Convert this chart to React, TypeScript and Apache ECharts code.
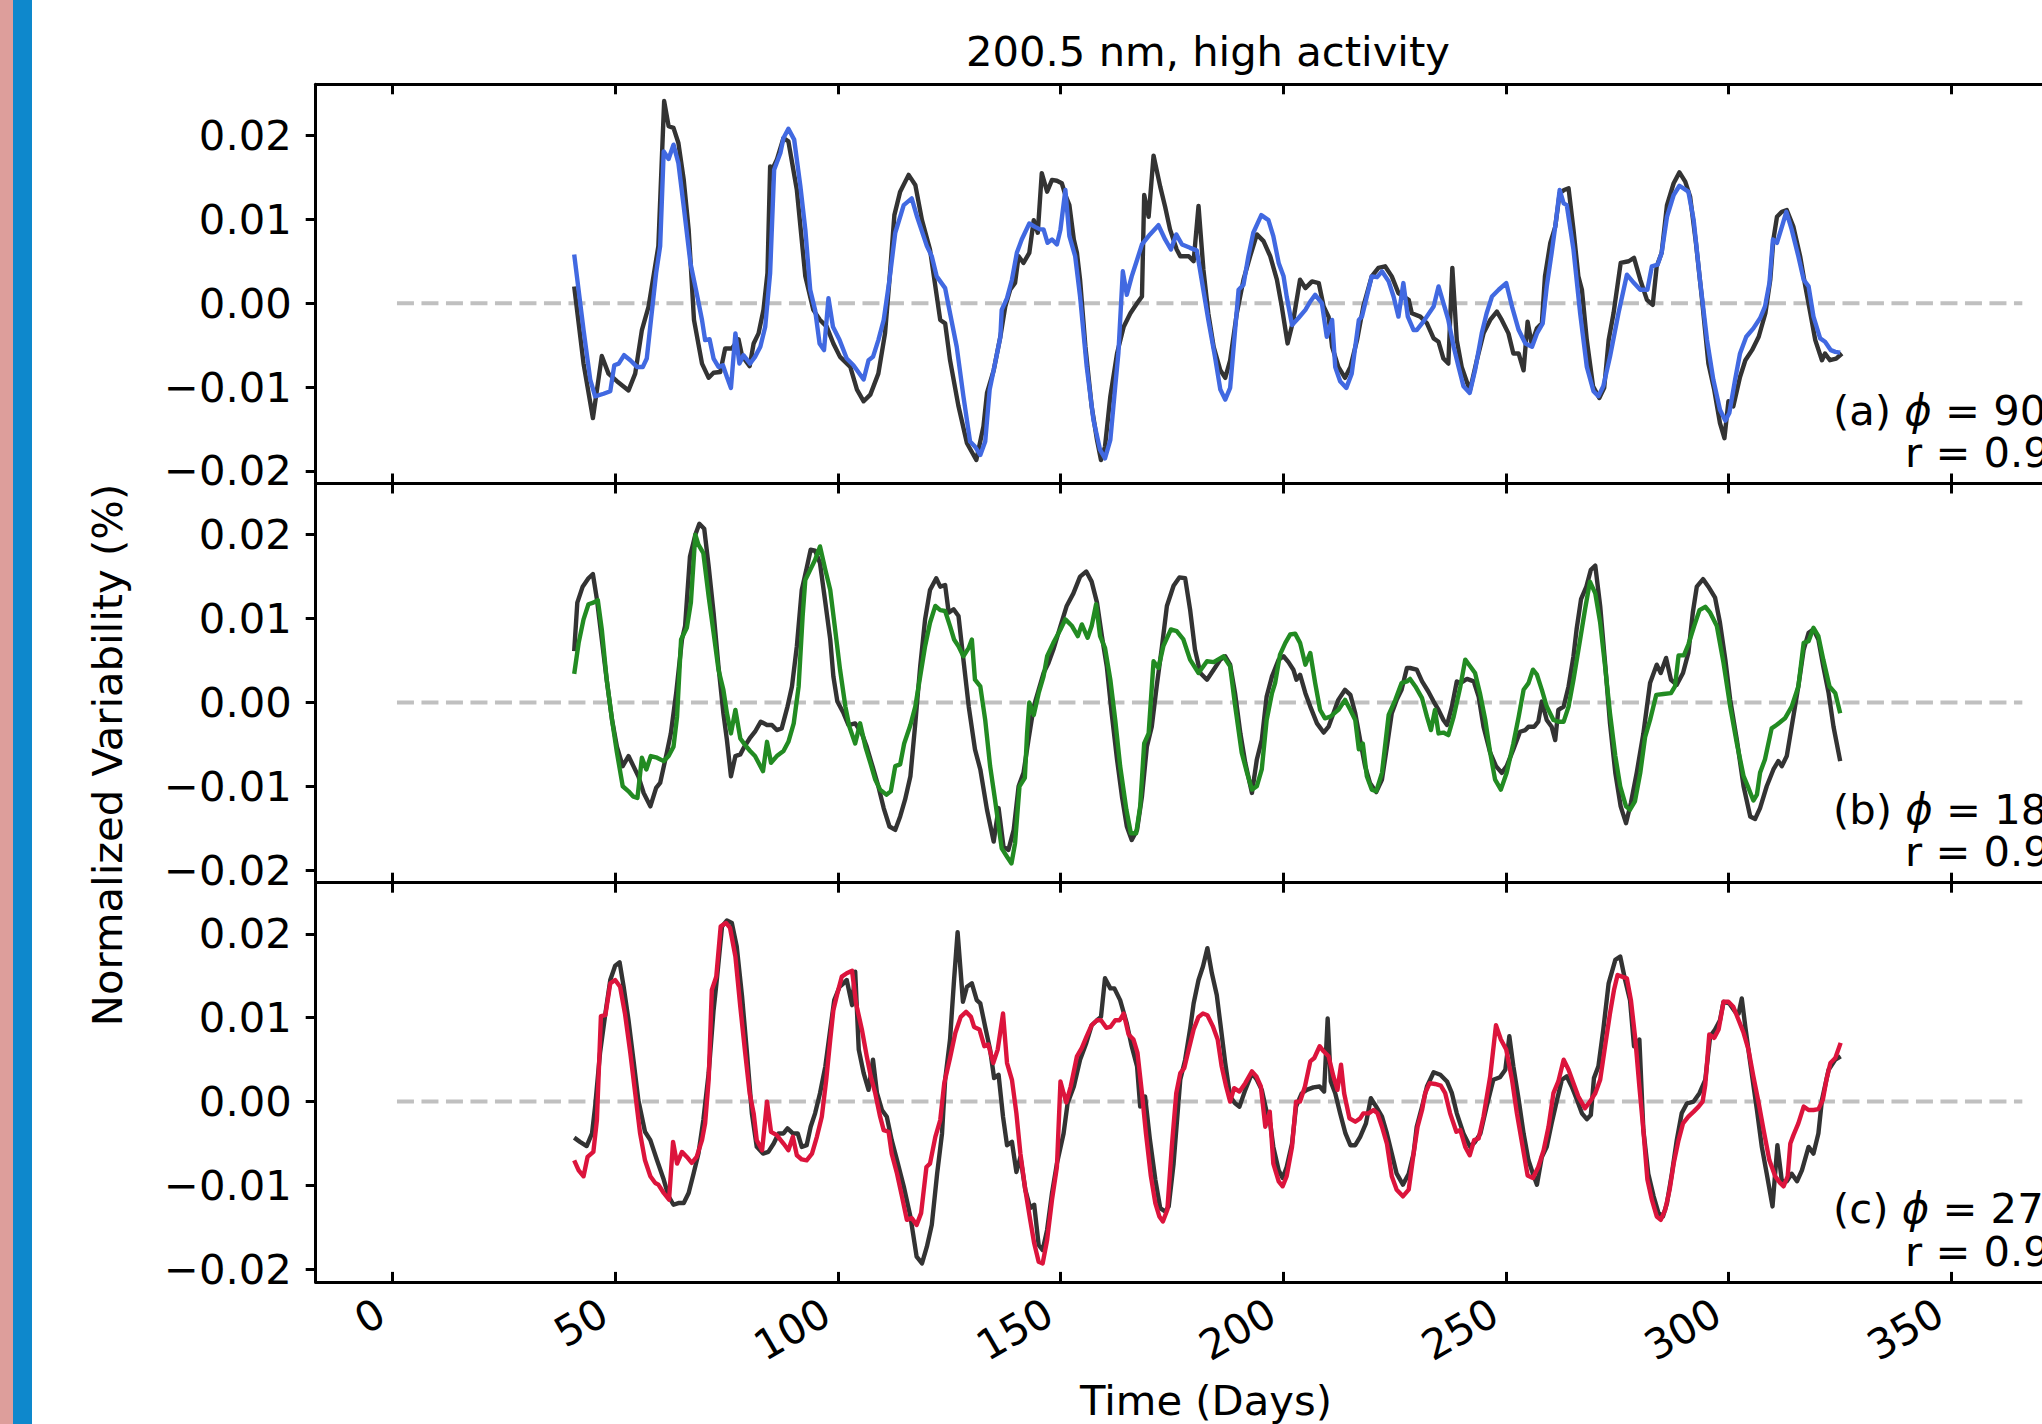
import React, { useEffect, useRef } from "react";
import * as echarts from "echarts";

// ---------- text ----------
const TITLE = "200.5 nm, high activity";
const Y_LABEL = "Normalized Variability (%)";
const X_LABEL = "Time (Days)";
const PANEL_TAGS = ["(a) ", "(b) ", "(c) "];
const PANEL_PHASES = [" = 90°", " = 180°", " = 270°"];
const PANEL_R = ["r = 0.93", "r = 0.91", "r = 0.92"];

// ---------- ticks ----------
const X_TICKS = [0, 50, 100, 150, 200, 250, 300, 350];
const Y_TICKS = [-0.02, -0.01, 0, 0.01, 0.02];
const ZERO_LINE: [number, number][] = [[1, 0], [366, 0]];

// ---------- data: [day, normalized variability] ----------
const obsA: [number, number][] = [[40.8,0.0020],[42.9,-0.0072],[45.0,-0.0137],[47.0,-0.0063],[48.5,-0.0084],[50.4,-0.0093],[53.0,-0.0104],[54.5,-0.0084],[56.0,-0.0032],[57.5,-0.0004],[59.7,0.0068],[61.0,0.0241],[62.0,0.0211],[63.1,0.0209],[64.2,0.0191],[65.4,0.0147],[66.5,0.0088],[67.7,-0.0020],[69.5,-0.0072],[71.0,-0.0089],[72.1,-0.0083],[73.6,-0.0082],[74.7,-0.0054],[76.2,-0.0054],[77.7,-0.0043],[78.5,-0.0063],[80.2,-0.0075],[81.1,-0.0048],[82.2,-0.0036],[83.3,-0.0008],[84.2,0.0036],[84.8,0.0163],[85.4,0.0161],[86.3,0.0171],[87.8,0.0197],[88.9,0.0193],[90.8,0.0135],[92.7,0.0032],[94.5,-0.0008],[96.0,-0.0020],[97.5,-0.0028],[99.0,-0.0048],[100.5,-0.0064],[102.8,-0.0076],[104.3,-0.0103],[105.8,-0.0117],[107.3,-0.0109],[109.1,-0.0084],[110.6,-0.0036],[111.6,0.0028],[112.7,0.0105],[114.0,0.0133],[115.9,0.0153],[117.4,0.0141],[118.9,0.0099],[120.7,0.0064],[123.0,-0.0020],[124.1,-0.0024],[125.2,-0.0068],[127.1,-0.0123],[129.0,-0.0167],[131.1,-0.0187],[132.7,-0.0147],[133.5,-0.0107],[135.0,-0.0080],[136.5,-0.0040],[137.6,-0.0004],[138.7,0.0016],[139.8,0.0024],[140.6,0.0056],[141.7,0.0048],[143.0,0.0060],[144.0,0.0099],[144.9,0.0084],[145.8,0.0155],[147.0,0.0133],[148.1,0.0147],[149.2,0.0146],[150.3,0.0143],[151.1,0.0129],[152.0,0.0117],[153.0,0.0076],[153.7,0.0060],[154.4,0.0028],[155.6,-0.0052],[157.0,-0.0123],[158.2,-0.0163],[159.1,-0.0187],[160.0,-0.0171],[161.2,-0.0111],[162.7,-0.0060],[164.2,-0.0028],[165.7,-0.0012],[167.2,0.0000],[168.3,0.0008],[168.8,0.0129],[169.8,0.0103],[170.9,0.0176],[172.4,0.0139],[173.5,0.0115],[174.6,0.0088],[176.1,0.0064],[176.9,0.0056],[178.8,0.0056],[179.9,0.0050],[181.0,0.0116],[182.1,0.0040],[183.2,-0.0012],[184.4,-0.0052],[185.9,-0.0080],[187.0,-0.0089],[188.1,-0.0068],[189.6,-0.0012],[191.1,0.0028],[192.6,0.0056],[194.1,0.0082],[195.6,0.0074],[197.1,0.0056],[198.6,0.0028],[199.7,-0.0004],[201.0,-0.0048],[202.3,-0.0020],[203.8,0.0028],[205.0,0.0018],[206.5,0.0026],[208.0,0.0024],[209.1,-0.0004],[210.2,-0.0016],[211.0,-0.0052],[212.4,-0.0076],[213.9,-0.0089],[215.1,-0.0076],[216.6,-0.0044],[218.0,-0.0004],[219.9,0.0032],[221.4,0.0042],[222.9,0.0044],[224.4,0.0032],[225.9,0.0012],[227.0,0.0008],[228.2,0.0004],[228.9,-0.0012],[230.8,-0.0016],[232.3,-0.0024],[233.8,-0.0042],[234.9,-0.0046],[236.0,-0.0066],[237.1,-0.0072],[238.0,0.0042],[239.0,-0.0044],[240.1,-0.0076],[241.6,-0.0099],[242.0,-0.0103],[243.5,-0.0068],[245.0,-0.0036],[246.5,-0.0020],[248.0,-0.0010],[249.1,-0.0020],[250.6,-0.0036],[251.7,-0.0060],[252.9,-0.0060],[254.0,-0.0080],[254.9,-0.0022],[255.8,-0.0048],[257.0,-0.0030],[258.1,-0.0024],[258.8,0.0032],[260.0,0.0072],[261.1,0.0091],[262.1,0.0131],[263.1,0.0135],[264.1,0.0137],[265.2,0.0088],[266.3,0.0032],[267.1,0.0016],[268.2,-0.0044],[269.6,-0.0099],[271.0,-0.0113],[272.1,-0.0101],[273.1,-0.0044],[274.2,-0.0012],[275.8,0.0048],[277.6,0.0050],[278.8,0.0054],[280.2,0.0028],[281.7,0.0004],[283.0,-0.0002],[283.9,0.0044],[285.0,0.0060],[286.2,0.0117],[287.7,0.0143],[289.0,0.0156],[290.3,0.0145],[291.4,0.0127],[292.7,0.0072],[294.0,0.0008],[295.5,-0.0072],[296.8,-0.0103],[298.1,-0.0143],[299.1,-0.0161],[300.0,-0.0117],[301.1,-0.0123],[302.6,-0.0088],[303.8,-0.0068],[305.3,-0.0056],[306.8,-0.0040],[308.3,-0.0012],[309.4,0.0028],[310.1,0.0076],[310.9,0.0103],[312.0,0.0109],[313.1,0.0111],[314.6,0.0091],[316.1,0.0056],[317.2,0.0022],[318.4,-0.0012],[319.5,-0.0044],[321.0,-0.0068],[321.7,-0.0060],[322.8,-0.0068],[324.2,-0.0066],[325.5,-0.0060]];

const modA: [number, number][] = [[40.8,0.0058],[42.9,-0.0032],[44.4,-0.0091],[45.5,-0.0111],[47.4,-0.0108],[48.9,-0.0105],[49.8,-0.0074],[50.8,-0.0072],[52.0,-0.0062],[53.4,-0.0068],[54.9,-0.0076],[56.2,-0.0076],[57.1,-0.0066],[58.2,-0.0012],[59.2,0.0036],[60.1,0.0068],[60.9,0.0181],[62.0,0.0172],[63.1,0.0189],[64.2,0.0167],[65.4,0.0115],[66.9,0.0048],[68.3,0.0012],[69.5,-0.0020],[70.2,-0.0044],[71.2,-0.0043],[72.1,-0.0066],[73.2,-0.0076],[74.2,-0.0074],[75.1,-0.0088],[76.0,-0.0101],[77.0,-0.0036],[77.9,-0.0072],[78.8,-0.0062],[80.3,-0.0072],[81.4,-0.0064],[82.6,-0.0052],[83.7,-0.0028],[84.8,0.0036],[85.7,0.0159],[87.1,0.0179],[87.8,0.0197],[88.9,0.0208],[90.2,0.0195],[91.6,0.0139],[92.7,0.0088],[93.8,0.0016],[94.9,-0.0008],[95.9,-0.0048],[96.9,-0.0056],[97.9,0.0006],[98.9,-0.0028],[100.4,-0.0044],[102.0,-0.0066],[103.5,-0.0074],[105.8,-0.0091],[106.9,-0.0068],[107.9,-0.0064],[109.1,-0.0044],[110.3,-0.0020],[111.6,0.0028],[112.9,0.0084],[114.8,0.0117],[116.6,0.0125],[117.8,0.0103],[120.0,0.0068],[121.1,0.0056],[122.2,0.0032],[124.1,0.0018],[125.2,-0.0012],[126.7,-0.0052],[128.2,-0.0111],[129.7,-0.0165],[130.8,-0.0171],[132.0,-0.0181],[133.1,-0.0165],[134.1,-0.0103],[135.3,-0.0072],[136.5,-0.0040],[136.8,-0.0008],[138.0,0.0006],[139.1,0.0028],[140.2,0.0060],[141.3,0.0076],[143.0,0.0095],[144.3,0.0091],[145.4,0.0088],[146.2,0.0088],[147.1,0.0072],[148.1,0.0076],[149.2,0.0070],[150.0,0.0088],[151.1,0.0135],[152.0,0.0080],[153.3,0.0056],[154.4,0.0008],[155.9,-0.0076],[157.4,-0.0139],[158.9,-0.0175],[160.0,-0.0185],[161.2,-0.0163],[162.3,-0.0099],[163.0,-0.0060],[164.0,0.0038],[164.9,0.0010],[166.0,0.0032],[167.1,0.0050],[168.3,0.0070],[170.1,0.0082],[172.0,0.0093],[173.5,0.0076],[174.8,0.0064],[176.0,0.0082],[177.3,0.0070],[179.1,0.0066],[180.6,0.0063],[181.7,0.0028],[183.2,-0.0020],[184.7,-0.0064],[185.9,-0.0103],[187.0,-0.0115],[188.1,-0.0101],[190.0,0.0016],[191.1,0.0022],[192.2,0.0056],[193.3,0.0084],[195.1,0.0105],[196.7,0.0099],[197.8,0.0080],[199.0,0.0048],[200.1,0.0032],[200.8,0.0008],[202.0,-0.0026],[203.4,-0.0018],[205.0,-0.0008],[206.1,0.0002],[207.2,0.0010],[208.7,0.0000],[209.8,-0.0040],[211.0,-0.0020],[211.7,-0.0076],[212.8,-0.0093],[214.2,-0.0101],[215.4,-0.0084],[217.0,-0.0020],[217.7,-0.0016],[218.8,0.0008],[219.9,0.0032],[221.1,0.0031],[222.2,0.0038],[223.7,0.0026],[224.8,0.0008],[225.9,-0.0016],[227.0,0.0024],[228.0,-0.0016],[229.3,-0.0032],[230.0,-0.0032],[231.5,-0.0022],[233.8,-0.0004],[234.9,0.0020],[236.0,0.0000],[237.1,-0.0020],[238.3,-0.0052],[239.4,-0.0076],[240.5,-0.0099],[241.9,-0.0107],[243.1,-0.0080],[244.6,-0.0036],[245.7,-0.0012],[246.9,0.0008],[248.4,0.0016],[250.1,0.0024],[251.4,-0.0004],[252.9,-0.0032],[254.4,-0.0048],[255.9,-0.0052],[257.0,-0.0036],[258.3,-0.0024],[259.2,0.0020],[260.3,0.0060],[261.3,0.0099],[262.1,0.0135],[263.0,0.0119],[263.7,0.0117],[265.2,0.0064],[266.7,-0.0012],[268.2,-0.0076],[269.7,-0.0105],[270.8,-0.0111],[271.9,-0.0099],[273.4,-0.0064],[275.3,-0.0012],[277.2,0.0034],[278.8,0.0024],[280.2,0.0016],[281.8,0.0016],[282.8,0.0044],[284.1,0.0046],[285.0,0.0060],[286.2,0.0103],[287.7,0.0129],[289.0,0.0140],[291.0,0.0133],[292.2,0.0099],[293.6,0.0028],[295.2,-0.0044],[296.6,-0.0091],[298.1,-0.0127],[299.3,-0.0140],[300.2,-0.0131],[301.5,-0.0091],[302.6,-0.0060],[304.0,-0.0040],[305.6,-0.0030],[307.1,-0.0018],[308.2,-0.0004],[309.2,0.0024],[310.0,0.0076],[310.9,0.0072],[312.0,0.0091],[313.0,0.0109],[314.2,0.0088],[315.7,0.0056],[316.9,0.0028],[318.0,0.0020],[319.1,-0.0016],[320.6,-0.0042],[321.7,-0.0046],[323.0,-0.0056],[324.0,-0.0058],[325.1,-0.0059]];

const obsB: [number, number][] = [[40.8,0.0061],[41.5,0.0119],[42.7,0.0138],[44.0,0.0148],[45.0,0.0153],[45.9,0.0123],[47.0,0.0075],[48.1,0.0027],[49.3,-0.0021],[50.4,-0.0053],[51.7,-0.0076],[53.0,-0.0064],[54.1,-0.0076],[55.2,-0.0088],[56.4,-0.0108],[57.9,-0.0124],[59.2,-0.0102],[60.1,-0.0096],[61.6,-0.0060],[62.5,-0.0037],[63.7,0.0011],[65.0,0.0075],[65.7,0.0091],[66.8,0.0174],[68.0,0.0200],[68.9,0.0213],[70.0,0.0207],[71.0,0.0162],[72.1,0.0107],[73.2,0.0043],[74.3,-0.0013],[75.1,-0.0045],[76.0,-0.0088],[77.0,-0.0064],[78.1,-0.0062],[79.0,-0.0053],[80.2,-0.0043],[81.4,-0.0035],[82.7,-0.0023],[84.1,-0.0027],[85.2,-0.0027],[86.3,-0.0033],[87.4,-0.0031],[88.7,-0.0005],[89.7,0.0019],[90.8,0.0067],[91.9,0.0134],[93.0,0.0160],[93.9,0.0182],[94.9,0.0181],[96.0,0.0166],[97.2,0.0119],[98.3,0.0075],[99.0,0.0031],[99.9,0.0001],[101.3,-0.0013],[102.4,-0.0027],[103.9,-0.0025],[105.4,-0.0037],[106.5,-0.0053],[108.0,-0.0080],[109.1,-0.0100],[110.3,-0.0126],[111.6,-0.0148],[112.9,-0.0152],[114.0,-0.0136],[115.1,-0.0116],[116.3,-0.0088],[117.4,-0.0025],[118.5,0.0043],[119.6,0.0099],[120.7,0.0134],[122.1,0.0148],[123.0,0.0138],[124.1,0.0140],[124.9,0.0107],[126.0,0.0111],[127.1,0.0103],[128.2,0.0051],[129.4,-0.0005],[130.8,-0.0056],[132.0,-0.0080],[133.5,-0.0128],[135.0,-0.0166],[136.1,-0.0126],[137.2,-0.0172],[138.3,-0.0176],[139.5,-0.0152],[140.6,-0.0100],[141.7,-0.0084],[142.8,-0.0045],[144.0,-0.0005],[145.1,0.0015],[146.2,0.0035],[147.3,0.0047],[148.4,0.0063],[150.0,0.0091],[151.4,0.0115],[152.9,0.0130],[154.4,0.0150],[155.8,0.0156],[157.0,0.0144],[158.2,0.0119],[159.3,0.0079],[160.4,0.0043],[161.5,-0.0013],[162.7,-0.0068],[163.8,-0.0112],[164.9,-0.0148],[166.0,-0.0164],[167.2,-0.0152],[168.3,-0.0112],[169.4,-0.0053],[170.5,-0.0029],[171.6,0.0019],[172.8,0.0067],[173.9,0.0115],[175.4,0.0139],[176.7,0.0149],[178.0,0.0148],[179.1,0.0111],[180.2,0.0063],[181.4,0.0035],[182.9,0.0027],[184.4,0.0039],[185.9,0.0051],[187.0,0.0055],[188.1,0.0045],[189.2,0.0011],[190.4,-0.0037],[191.5,-0.0072],[193.0,-0.0108],[194.1,-0.0068],[195.2,-0.0045],[196.3,0.0007],[197.5,0.0031],[199.0,0.0051],[200.1,0.0055],[201.2,0.0048],[202.3,0.0039],[203.0,0.0027],[203.8,0.0033],[205.0,0.0011],[206.1,-0.0005],[207.6,-0.0025],[209.1,-0.0036],[210.2,-0.0029],[211.3,-0.0013],[212.4,0.0003],[213.9,0.0015],[215.1,0.0009],[216.2,-0.0013],[217.3,-0.0045],[218.4,-0.0076],[219.5,-0.0096],[220.9,-0.0107],[222.2,-0.0092],[223.3,-0.0053],[224.4,-0.0013],[225.5,0.0003],[226.6,0.0015],[227.8,0.0041],[228.5,0.0041],[230.0,0.0039],[231.2,0.0025],[232.6,0.0013],[233.8,0.0001],[234.9,-0.0009],[236.0,-0.0021],[236.8,-0.0027],[237.9,-0.0005],[239.0,0.0025],[239.8,0.0023],[241.3,0.0028],[242.8,0.0025],[243.9,0.0007],[245.0,-0.0029],[246.5,-0.0060],[247.8,-0.0076],[249.1,-0.0084],[250.2,-0.0076],[251.7,-0.0056],[253.2,-0.0035],[254.4,-0.0033],[255.1,-0.0029],[256.4,-0.0029],[257.3,-0.0023],[258.1,0.0001],[259.2,-0.0021],[260.3,-0.0029],[261.1,-0.0045],[261.8,-0.0009],[263.0,-0.0005],[264.1,0.0019],[265.2,0.0055],[265.9,0.0087],[266.9,0.0123],[268.1,0.0138],[269.1,0.0158],[270.1,0.0163],[271.2,0.0115],[272.3,0.0047],[273.4,-0.0025],[274.6,-0.0084],[275.8,-0.0124],[277.0,-0.0144],[278.1,-0.0120],[279.4,-0.0084],[280.9,-0.0037],[282.4,0.0023],[283.9,0.0045],[284.8,0.0035],[286.0,0.0053],[287.1,0.0027],[288.4,0.0021],[289.8,0.0035],[291.0,0.0059],[292.0,0.0107],[292.9,0.0138],[294.3,0.0147],[295.5,0.0138],[297.0,0.0125],[298.1,0.0095],[299.3,0.0051],[300.4,0.0003],[301.9,-0.0045],[303.4,-0.0100],[304.9,-0.0136],[306.0,-0.0139],[307.1,-0.0126],[308.6,-0.0100],[310.1,-0.0080],[311.2,-0.0070],[312.0,-0.0076],[313.1,-0.0064],[314.2,-0.0029],[315.7,0.0019],[316.9,0.0063],[318.0,0.0083],[319.1,0.0087],[320.2,0.0075],[321.3,0.0043],[322.5,0.0011],[323.6,-0.0029],[325.1,-0.0070]];

const modB: [number, number][] = [[40.8,0.0034],[41.8,0.0071],[42.9,0.0099],[44.0,0.0117],[45.1,0.0119],[46.1,0.0122],[47.0,0.0087],[48.1,0.0027],[49.3,-0.0021],[50.4,-0.0060],[51.7,-0.0100],[53.0,-0.0106],[54.0,-0.0112],[55.0,-0.0114],[56.0,-0.0066],[57.0,-0.0080],[58.0,-0.0064],[59.4,-0.0066],[60.9,-0.0070],[62.0,-0.0064],[63.1,-0.0053],[63.9,-0.0017],[64.8,0.0075],[66.1,0.0089],[67.0,0.0119],[68.0,0.0200],[68.7,0.0188],[69.8,0.0178],[71.0,0.0126],[72.1,0.0083],[73.2,0.0039],[74.3,0.0015],[75.1,-0.0013],[76.0,-0.0037],[77.0,-0.0009],[78.1,-0.0043],[79.2,-0.0051],[80.3,-0.0058],[81.4,-0.0064],[82.2,-0.0072],[83.2,-0.0082],[84.1,-0.0047],[85.0,-0.0072],[86.3,-0.0064],[87.8,-0.0058],[88.9,-0.0047],[90.1,-0.0025],[91.2,0.0019],[92.1,0.0103],[92.7,0.0146],[93.8,0.0158],[94.9,0.0170],[96.0,0.0186],[97.2,0.0158],[98.3,0.0134],[99.4,0.0087],[100.5,0.0039],[101.7,-0.0005],[102.6,-0.0029],[103.9,-0.0049],[105.0,-0.0025],[106.2,-0.0053],[107.3,-0.0072],[108.4,-0.0092],[109.5,-0.0104],[110.9,-0.0110],[111.9,-0.0106],[112.9,-0.0076],[114.0,-0.0074],[114.9,-0.0049],[116.3,-0.0027],[117.4,-0.0005],[118.5,0.0031],[119.6,0.0067],[120.7,0.0095],[121.9,0.0115],[123.0,0.0110],[124.1,0.0109],[125.2,0.0091],[126.1,0.0075],[127.1,0.0067],[128.2,0.0055],[129.4,0.0065],[130.1,0.0075],[130.8,0.0027],[132.0,0.0019],[133.1,-0.0021],[134.2,-0.0076],[135.3,-0.0116],[136.8,-0.0174],[138.0,-0.0184],[139.0,-0.0192],[139.8,-0.0168],[140.8,-0.0100],[142.0,-0.0090],[142.5,-0.0037],[143.0,0.0000],[144.0,-0.0015],[145.1,0.0011],[146.2,0.0031],[147.0,0.0055],[148.4,0.0071],[150.0,0.0087],[151.1,0.0099],[152.6,0.0091],[153.9,0.0079],[154.8,0.0093],[156.1,0.0077],[157.0,0.0091],[158.0,0.0117],[158.9,0.0079],[160.0,0.0065],[161.2,0.0027],[162.3,-0.0021],[163.4,-0.0076],[164.8,-0.0128],[165.8,-0.0156],[167.0,-0.0156],[167.9,-0.0124],[168.8,-0.0049],[169.8,-0.0037],[170.9,0.0049],[172.0,0.0041],[173.1,0.0067],[174.8,0.0087],[176.1,0.0085],[177.6,0.0075],[179.1,0.0051],[181.0,0.0035],[182.9,0.0049],[184.4,0.0048],[186.6,0.0055],[188.1,0.0043],[189.2,-0.0003],[190.7,-0.0060],[191.9,-0.0084],[193.0,-0.0104],[194.1,-0.0100],[195.2,-0.0080],[196.3,-0.0021],[197.5,0.0011],[198.2,0.0023],[199.3,0.0057],[200.5,0.0071],[201.6,0.0081],[202.7,0.0082],[203.8,0.0071],[205.0,0.0045],[206.1,0.0059],[207.2,0.0023],[208.3,-0.0009],[209.4,-0.0019],[210.6,-0.0017],[212.4,-0.0009],[213.9,0.0003],[215.1,-0.0009],[216.2,-0.0021],[217.0,-0.0056],[217.9,-0.0049],[218.8,-0.0088],[219.9,-0.0104],[220.9,-0.0106],[222.2,-0.0084],[223.7,-0.0015],[225.2,0.0003],[226.6,0.0023],[227.8,0.0025],[228.5,0.0028],[229.7,0.0019],[231.2,0.0005],[232.3,-0.0017],[233.2,-0.0033],[234.1,-0.0009],[234.9,-0.0037],[236.0,-0.0036],[237.1,-0.0039],[238.3,-0.0017],[239.8,0.0019],[240.9,0.0051],[242.0,0.0043],[243.1,0.0035],[244.2,0.0011],[245.4,-0.0021],[246.5,-0.0060],[247.6,-0.0092],[248.9,-0.0104],[250.2,-0.0084],[251.7,-0.0049],[252.9,-0.0017],[254.0,0.0015],[255.1,0.0023],[256.1,0.0039],[257.0,0.0033],[258.1,0.0015],[259.2,-0.0005],[260.7,-0.0021],[261.8,-0.0023],[263.0,-0.0023],[264.1,-0.0005],[265.2,0.0027],[266.7,0.0075],[267.8,0.0111],[268.9,0.0144],[270.1,0.0130],[271.2,0.0095],[272.3,0.0043],[273.4,-0.0013],[274.6,-0.0064],[275.7,-0.0100],[277.0,-0.0124],[277.9,-0.0128],[279.0,-0.0118],[280.2,-0.0084],[281.3,-0.0041],[282.4,-0.0021],[283.8,0.0009],[285.4,0.0010],[287.1,0.0011],[288.0,0.0019],[288.8,0.0056],[290.0,0.0056],[291.0,0.0069],[292.3,0.0091],[293.5,0.0110],[294.8,0.0114],[295.9,0.0107],[297.4,0.0091],[298.9,0.0047],[300.4,-0.0005],[301.9,-0.0049],[303.4,-0.0088],[304.5,-0.0102],[305.6,-0.0117],[306.4,-0.0110],[307.1,-0.0084],[308.2,-0.0068],[309.7,-0.0031],[310.8,-0.0027],[312.7,-0.0019],[314.2,-0.0005],[315.7,0.0019],[316.9,0.0071],[318.0,0.0073],[319.1,0.0089],[320.2,0.0079],[321.3,0.0051],[322.7,0.0019],[324.0,0.0011],[325.1,-0.0013]];

const obsC: [number, number][] = [[40.8,-0.0043],[42.1,-0.0048],[43.6,-0.0053],[44.8,-0.0038],[45.5,-0.0006],[46.6,0.0058],[47.8,0.0105],[48.9,0.0145],[50.0,0.0162],[51.0,0.0166],[51.9,0.0137],[53.0,0.0097],[54.1,0.0050],[55.2,0.0002],[56.7,-0.0036],[57.9,-0.0046],[59.4,-0.0070],[60.9,-0.0093],[62.0,-0.0113],[63.1,-0.0123],[64.2,-0.0121],[65.4,-0.0121],[66.5,-0.0109],[67.6,-0.0086],[68.7,-0.0062],[69.8,-0.0022],[71.0,0.0034],[72.1,0.0109],[72.9,0.0149],[74.0,0.0209],[75.1,0.0216],[76.2,0.0213],[77.3,0.0185],[78.5,0.0125],[79.6,0.0058],[80.7,-0.0014],[81.8,-0.0054],[83.2,-0.0062],[84.4,-0.0060],[85.6,-0.0050],[86.7,-0.0038],[87.8,-0.0038],[88.7,-0.0032],[89.9,-0.0038],[91.0,-0.0038],[91.9,-0.0054],[93.0,-0.0052],[93.9,-0.0030],[94.9,-0.0014],[96.0,0.0010],[97.2,0.0042],[98.3,0.0086],[99.2,0.0121],[100.4,0.0137],[101.3,0.0141],[102.0,0.0145],[103.2,0.0115],[103.9,0.0155],[104.7,0.0062],[105.8,0.0034],[106.9,0.0014],[107.9,0.0050],[108.8,0.0010],[109.9,-0.0010],[111.0,-0.0018],[112.1,-0.0046],[113.3,-0.0070],[114.8,-0.0101],[116.3,-0.0137],[117.7,-0.0185],[118.9,-0.0193],[120.0,-0.0173],[121.1,-0.0147],[122.3,-0.0086],[123.4,-0.0038],[124.1,0.0026],[125.2,0.0074],[126.1,0.0145],[126.9,0.0202],[128.1,0.0119],[129.0,0.0137],[130.1,0.0141],[131.2,0.0121],[132.0,0.0117],[133.1,0.0089],[134.2,0.0062],[135.1,0.0028],[136.1,0.0032],[137.1,-0.0018],[138.0,-0.0052],[139.1,-0.0048],[140.1,-0.0084],[141.0,-0.0066],[142.1,-0.0105],[143.2,-0.0127],[144.1,-0.0123],[145.1,-0.0171],[146.0,-0.0177],[147.0,-0.0153],[148.1,-0.0109],[149.2,-0.0074],[150.7,-0.0038],[151.6,-0.0002],[153.0,0.0018],[154.4,0.0050],[155.8,0.0070],[157.0,0.0091],[158.2,0.0097],[159.1,0.0101],[160.0,0.0147],[161.2,0.0135],[162.1,0.0135],[163.4,0.0121],[164.9,0.0093],[166.0,0.0066],[167.2,0.0042],[167.9,-0.0006],[169.0,0.0006],[170.1,-0.0046],[171.3,-0.0093],[172.4,-0.0127],[173.5,-0.0131],[174.3,-0.0125],[175.4,-0.0074],[176.9,0.0026],[178.0,0.0050],[179.1,0.0086],[179.9,0.0117],[181.0,0.0145],[182.0,0.0161],[183.0,0.0183],[184.0,0.0153],[185.1,0.0127],[185.9,0.0093],[187.0,0.0046],[188.1,0.0006],[189.2,-0.0002],[190.2,-0.0006],[191.5,0.0014],[193.0,0.0034],[194.1,0.0026],[195.2,0.0014],[196.2,-0.0010],[197.1,-0.0026],[197.8,-0.0054],[199.0,-0.0082],[199.9,-0.0091],[200.8,-0.0078],[202.0,-0.0050],[202.9,-0.0006],[204.2,0.0010],[205.3,0.0014],[206.8,0.0017],[208.2,0.0018],[209.2,0.0012],[210.0,0.0099],[210.7,0.0024],[211.7,0.0010],[212.8,-0.0014],[214.0,-0.0038],[215.1,-0.0052],[216.2,-0.0052],[217.3,-0.0042],[218.6,-0.0026],[219.7,0.0004],[220.9,-0.0006],[222.2,-0.0018],[223.3,-0.0038],[224.4,-0.0062],[225.5,-0.0086],[226.9,-0.0099],[228.2,-0.0086],[229.3,-0.0062],[230.0,-0.0030],[231.2,-0.0006],[232.3,0.0018],[233.8,0.0035],[235.3,0.0032],[236.8,0.0024],[237.9,0.0010],[239.0,-0.0014],[240.5,-0.0038],[242.0,-0.0054],[243.1,-0.0048],[244.3,-0.0038],[245.7,-0.0006],[247.2,0.0026],[248.7,0.0029],[249.9,0.0038],[250.8,0.0078],[251.7,0.0042],[252.9,0.0002],[254.0,-0.0038],[255.1,-0.0070],[256.1,-0.0086],[257.0,-0.0099],[258.1,-0.0066],[259.2,-0.0054],[260.3,-0.0026],[261.5,0.0002],[262.6,0.0026],[263.7,0.0030],[264.8,0.0018],[266.0,0.0002],[267.1,-0.0014],[268.2,-0.0021],[269.1,-0.0016],[269.8,0.0028],[270.8,0.0042],[271.9,0.0086],[273.1,0.0141],[274.6,0.0169],[275.7,0.0173],[276.8,0.0145],[277.9,0.0121],[278.8,0.0066],[280.0,0.0074],[280.9,-0.0034],[282.0,-0.0086],[283.2,-0.0113],[284.3,-0.0133],[285.3,-0.0137],[286.2,-0.0121],[287.3,-0.0086],[288.4,-0.0046],[289.5,-0.0014],[290.7,-0.0002],[292.2,0.0000],[293.5,0.0010],[294.8,0.0026],[295.9,0.0078],[297.0,0.0086],[298.1,0.0097],[298.9,0.0119],[300.2,0.0117],[301.5,0.0107],[302.3,0.0105],[303.0,0.0123],[303.8,0.0089],[304.9,0.0046],[306.4,-0.0010],[307.5,-0.0054],[308.6,-0.0086],[309.9,-0.0125],[311.0,-0.0052],[312.0,-0.0095],[313.1,-0.0095],[314.2,-0.0086],[315.4,-0.0095],[316.5,-0.0082],[318.0,-0.0054],[319.1,-0.0062],[320.2,-0.0038],[321.0,0.0002],[322.5,0.0038],[324.0,0.0050],[325.2,0.0054]];

const modC: [number, number][] = [[40.8,-0.0070],[41.8,-0.0082],[42.9,-0.0089],[43.8,-0.0066],[45.1,-0.0060],[45.9,-0.0022],[46.8,0.0102],[47.8,0.0103],[48.9,0.0141],[50.0,0.0145],[51.1,0.0137],[52.2,0.0105],[53.4,0.0058],[54.5,0.0010],[55.6,-0.0038],[56.7,-0.0070],[57.9,-0.0089],[59.0,-0.0097],[59.7,-0.0099],[60.9,-0.0109],[62.1,-0.0117],[63.0,-0.0048],[63.9,-0.0074],[65.0,-0.0060],[66.1,-0.0066],[67.2,-0.0073],[68.3,-0.0066],[69.5,-0.0046],[70.2,-0.0026],[71.0,0.0026],[71.7,0.0133],[72.7,0.0149],[73.7,0.0209],[74.9,0.0213],[75.8,0.0207],[77.0,0.0173],[78.1,0.0113],[79.2,0.0058],[80.2,0.0010],[81.1,-0.0014],[81.8,-0.0046],[83.0,-0.0058],[84.1,0.0000],[85.0,-0.0036],[86.3,-0.0040],[87.8,-0.0050],[88.9,-0.0058],[89.9,-0.0042],[90.8,-0.0064],[91.9,-0.0069],[93.0,-0.0070],[94.2,-0.0062],[95.3,-0.0042],[96.4,-0.0018],[97.4,0.0026],[98.3,0.0074],[99.0,0.0109],[99.9,0.0129],[100.9,0.0149],[102.0,0.0153],[103.2,0.0156],[104.1,0.0117],[105.4,0.0086],[106.5,0.0054],[107.4,0.0030],[108.4,0.0010],[109.5,-0.0018],[110.3,-0.0034],[111.4,-0.0036],[112.1,-0.0062],[113.3,-0.0086],[114.4,-0.0113],[115.5,-0.0141],[116.6,-0.0139],[117.7,-0.0147],[118.7,-0.0133],[119.9,-0.0078],[120.7,-0.0074],[121.9,-0.0042],[123.0,-0.0022],[123.9,0.0022],[125.2,0.0052],[126.4,0.0082],[127.6,0.0101],[128.8,0.0107],[129.9,0.0101],[130.6,0.0089],[131.8,0.0086],[132.9,0.0066],[133.8,0.0068],[134.9,0.0046],[135.9,0.0062],[137.1,0.0105],[138.0,0.0046],[139.1,0.0026],[140.1,-0.0014],[141.0,-0.0062],[142.1,-0.0105],[143.2,-0.0141],[144.1,-0.0169],[145.1,-0.0191],[146.0,-0.0193],[147.0,-0.0165],[148.1,-0.0117],[149.2,-0.0078],[150.0,0.0024],[150.7,0.0010],[151.3,-0.0001],[152.3,0.0018],[153.7,0.0054],[154.8,0.0064],[155.9,0.0078],[157.0,0.0091],[158.2,0.0097],[159.1,0.0097],[160.3,0.0088],[161.2,0.0089],[162.3,0.0097],[163.3,0.0097],[164.2,0.0105],[165.3,0.0080],[166.4,0.0074],[167.3,0.0058],[168.3,0.0010],[169.2,-0.0038],[170.3,-0.0089],[171.3,-0.0121],[172.2,-0.0137],[173.0,-0.0143],[174.0,-0.0129],[175.0,-0.0054],[176.0,0.0010],[176.9,0.0034],[177.8,0.0040],[178.8,0.0062],[179.9,0.0086],[181.0,0.0101],[182.0,0.0105],[183.0,0.0103],[184.2,0.0090],[185.3,0.0074],[186.2,0.0042],[187.2,0.0018],[188.1,0.0000],[189.0,0.0016],[190.2,0.0012],[191.5,0.0022],[193.0,0.0036],[194.0,0.0030],[195.0,0.0018],[196.0,-0.0030],[197.0,-0.0012],[197.8,-0.0074],[199.0,-0.0095],[199.9,-0.0101],[200.8,-0.0089],[202.0,-0.0054],[202.9,0.0000],[203.8,0.0000],[204.9,0.0018],[206.1,0.0048],[207.0,0.0052],[208.2,0.0066],[209.1,0.0060],[210.2,0.0054],[211.3,0.0030],[212.2,0.0014],[213.0,0.0044],[213.7,0.0010],[214.9,-0.0020],[216.2,-0.0024],[217.3,-0.0020],[218.0,-0.0014],[219.2,-0.0014],[220.3,-0.0010],[221.2,-0.0014],[222.2,-0.0030],[223.3,-0.0050],[224.4,-0.0089],[225.5,-0.0105],[226.9,-0.0113],[228.2,-0.0105],[229.3,-0.0062],[230.2,-0.0030],[231.2,-0.0010],[231.9,0.0010],[232.9,0.0022],[234.1,0.0021],[235.4,0.0019],[236.4,0.0010],[237.5,-0.0014],[238.9,-0.0036],[239.8,-0.0034],[240.9,-0.0054],[241.9,-0.0064],[242.9,-0.0046],[243.9,-0.0044],[245.0,-0.0018],[246.5,0.0030],[247.8,0.0091],[248.9,0.0074],[250.1,0.0062],[251.4,0.0026],[252.5,-0.0014],[253.8,-0.0054],[254.9,-0.0088],[256.1,-0.0091],[257.3,-0.0078],[258.5,-0.0058],[259.6,-0.0030],[260.7,0.0010],[261.8,0.0024],[263.0,0.0050],[264.1,0.0038],[265.2,0.0022],[266.3,0.0006],[267.8,-0.0008],[268.9,0.0000],[270.1,0.0010],[271.2,0.0026],[272.3,0.0066],[273.4,0.0105],[274.3,0.0133],[275.1,0.0151],[276.1,0.0149],[277.2,0.0147],[278.1,0.0121],[279.1,0.0074],[280.0,0.0018],[280.9,-0.0034],[281.8,-0.0093],[282.8,-0.0117],[283.9,-0.0137],[284.8,-0.0141],[285.8,-0.0129],[286.8,-0.0105],[287.7,-0.0074],[288.8,-0.0046],[289.8,-0.0026],[291.0,-0.0018],[292.2,-0.0012],[293.3,-0.0006],[294.2,0.0000],[294.8,0.0020],[295.7,0.0080],[296.8,0.0076],[297.8,0.0086],[298.9,0.0119],[300.0,0.0119],[301.1,0.0113],[302.3,0.0097],[303.4,0.0082],[304.5,0.0062],[305.6,0.0030],[306.8,-0.0002],[307.9,-0.0034],[309.2,-0.0070],[310.5,-0.0089],[311.6,-0.0097],[312.4,-0.0101],[313.3,-0.0089],[313.9,-0.0050],[314.6,-0.0040],[315.7,-0.0026],[316.9,-0.0006],[318.0,-0.0010],[319.1,-0.0010],[320.2,-0.0009],[321.2,0.0002],[322.0,0.0026],[322.9,0.0046],[324.0,0.0052],[325.2,0.0070]];

const OBS = [obsA, obsB, obsC];
const MODELS = [modA, modB, modC];
const MODEL_COLORS = ["#4169e1", "#228b22", "#dc143c"];

// ---------- layout (px) ----------
const FONT = "'DejaVu Sans', sans-serif";
const FS = 41.7;
const GRID_LEFT = 315.7;
const GRID_WIDTH = 1787.9;
const GRID_TOPS = [84.3, 483.5, 882.7];
const GRID_H = 399.2;
const X_MIN = -17.25;
const X_MAX = 384.25;
const Y_MIN = -0.0215;
const Y_MAX = 0.0261;

const fmtY = (v: number) => (v < -1e-9 ? "\u2212" : "") + Math.abs(v).toFixed(2);

export default function App() {
  const ref = useRef<HTMLDivElement>(null);
  useEffect(() => {
    if (!ref.current) return;
    const chart = echarts.init(ref.current, undefined, { renderer: "svg" });
    const axisLineStyle = { color: "#000", width: 3 };
    const grids: any[] = [];
    const xAxes: any[] = [];
    const yAxes: any[] = [];
    const series: any[] = [];
    const graphics: any[] = [];
    for (let i = 0; i < 3; i++) {
      grids.push({ left: GRID_LEFT, top: GRID_TOPS[i], width: GRID_WIDTH, height: GRID_H, outerBoundsMode: "none", containLabel: false });
      const baseX = {
        type: "value", gridIndex: i, min: X_MIN, max: X_MAX,
        axisLine: { show: true, onZero: false, lineStyle: axisLineStyle },
        axisTick: { show: true, inside: true, length: 10, lineStyle: axisLineStyle, customValues: X_TICKS },
        splitLine: { show: false },
      };
      xAxes.push({
        ...baseX, position: "bottom",
        axisLabel: i === 2
          ? { show: true, customValues: X_TICKS, rotate: 30, margin: 21, padding: [0, 13, 15, 0], fontSize: FS, fontFamily: FONT, color: "#000", formatter: (v: number) => String(v) }
          : { show: false },
      });
      xAxes.push({ ...baseX, position: "top", axisLabel: { show: false } });
      yAxes.push({
        type: "value", gridIndex: i, min: Y_MIN, max: Y_MAX, position: "left",
        axisLine: { show: true, onZero: false, lineStyle: axisLineStyle },
        axisTick: { show: true, inside: false, length: 10, lineStyle: axisLineStyle, customValues: Y_TICKS },
        axisLabel: { show: true, customValues: Y_TICKS, margin: 24, fontSize: FS, fontFamily: FONT, color: "#000", formatter: fmtY },
        splitLine: { show: false },
      });
      series.push({
        type: "line", xAxisIndex: 2 * i, yAxisIndex: i, data: ZERO_LINE, symbol: "none", silent: true,
        lineStyle: { color: "#c0c0c0", width: 4, type: [17, 7.5] },
      });
      series.push({
        type: "line", xAxisIndex: 2 * i, yAxisIndex: i, data: OBS[i], symbol: "none", silent: true,
        lineStyle: { color: "#333333", width: 4.4, join: "round" },
      });
      series.push({
        type: "line", xAxisIndex: 2 * i, yAxisIndex: i, data: MODELS[i], symbol: "none", silent: true,
        lineStyle: { color: MODEL_COLORS[i], width: 4.4, join: "round" },
      });
      const dy = i * GRID_H;
      graphics.push({
        type: "text", x: 1833, y: 410 + dy,
        style: {
          text: PANEL_TAGS[i] + "{p|\u03d5}" + PANEL_PHASES[i],
          fontSize: FS, fontFamily: FONT, fill: "#000", align: "left", verticalAlign: "middle", lineHeight: 38,
          rich: { p: { fontSize: FS, fontFamily: FONT, fontStyle: "italic", fill: "#000", lineHeight: 38 } },
        },
      });
      graphics.push({
        type: "text", x: 1905, y: 452.7 + dy,
        style: { text: PANEL_R[i], fontSize: FS, fontFamily: FONT, fill: "#000", align: "left", verticalAlign: "middle", lineHeight: 38 },
      });
    }
    graphics.push(
      { type: "rect", shape: { x: 0, y: 0, width: 13, height: 1424 }, style: { fill: "#dd9e9b" } },
      { type: "rect", shape: { x: 13, y: 0, width: 19, height: 1424 }, style: { fill: "#0e88cc" } },
      { type: "text", x: 1208, y: 51, style: { text: TITLE, fontSize: FS, fontFamily: FONT, fill: "#000", align: "center", verticalAlign: "middle" } },
      { type: "text", x: 1206, y: 1400, style: { text: X_LABEL, fontSize: FS, fontFamily: FONT, fill: "#000", align: "center", verticalAlign: "middle" } },
      { type: "text", x: 107.5, y: 755, rotation: Math.PI / 2, style: { text: Y_LABEL, fontSize: FS, fontFamily: FONT, fill: "#000", align: "center", verticalAlign: "middle" } },
    );
    chart.setOption({
      animation: false,
      backgroundColor: "#ffffff",
      grid: grids,
      xAxis: xAxes,
      yAxis: yAxes,
      series,
      graphic: graphics,
    });
    return () => chart.dispose();
  }, []);
  return (
    <div style={{ position: "fixed", left: 0, top: 0, width: 2042, height: 1424, overflow: "hidden", background: "#fff" }}>
      <div ref={ref} style={{ width: 2200, height: 1424 }} />
    </div>
  );
}
